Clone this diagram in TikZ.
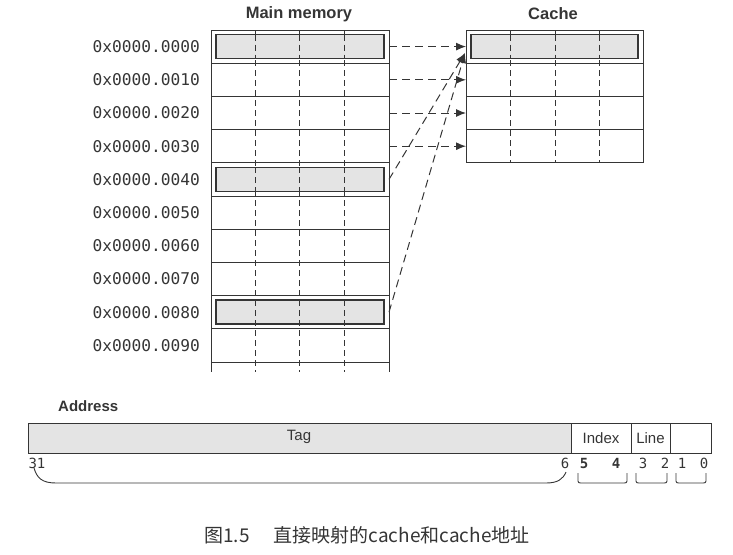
\documentclass[tikz,border=0pt]{standalone}
\usepackage{fontspec}
\setmainfont{Liberation Sans}
\newfontfamily\monof{DejaVu Sans Mono}
\newfontfamily\cjk{Noto Sans CJK SC}
\usetikzlibrary{arrows.meta}
\definecolor{ink}{HTML}{353535}
\definecolor{hl}{HTML}{E4E4E4}
\begin{document}
\begin{tikzpicture}[x=1pt,y=-1pt,
  grid/.style={draw=ink,line width=1pt},
  cell/.style={draw=ink,line width=0.9pt,dash pattern=on 6pt off 4pt},
  hilite/.style={draw=ink,fill=hl,line width=1.6pt},
  link/.style={draw=ink,line width=1pt,dash pattern=on 8pt off 5pt,-{Latex[length=10pt,width=8pt]}},
  addr/.style={font=\monof\fontsize{16.2}{18}\selectfont,text=ink,anchor=east,inner sep=0pt},
  title/.style={font=\bfseries\fontsize{16.5}{18}\selectfont,text=ink,inner sep=0pt},
  field/.style={font=\fontsize{15}{17}\selectfont,text=ink,inner sep=0pt},
  bitno/.style={font=\monof\fontsize{14}{16}\selectfont,text=ink,inner sep=0pt},
  brk/.style={draw=ink,line width=0.9pt}]
\useasboundingbox (0,0) rectangle (733,554);
% ---- Main memory ----
\node[title] (mmt) at (299,14) {Main memory};
\foreach \i in {0,...,10} {\draw[grid] (211,{30+33.2*\i}) -- (389,{30+33.2*\i});}
\draw[grid] (211,30) -- (211,372);
\draw[grid] (389,30) -- (389,372);
\foreach \x in {255.5,299.5,344} {\draw[cell] (\x,30) -- (\x,372);}
\foreach \i in {0,4,8} {
  \draw[hilite] (216,{34.5+33.2*\i}) rectangle (384,{58.5+33.2*\i});
  \foreach \x in {255.5,299.5,344} {\draw[cell] (\x,{34.5+33.2*\i}) -- (\x,{58.5+33.2*\i});}
}
\foreach \t [count=\i from 0] in {0000,0010,0020,0030,0040,0050,0060,0070,0080,0090} {
  \node[addr] (a\i) at (200,{46.6+33.2*\i}) {0x0000.\t};
  \coordinate (m\i) at (389,{46.6+33.2*\i});
}
% ---- Cache ----
\node[title] (cat) at (553,14) {Cache};
\foreach \i in {0,...,4} {\draw[grid] (466,{30+33.2*\i}) -- (643,{30+33.2*\i});}
\draw[grid] (466,30) -- (466,162.8);
\draw[grid] (643,30) -- (643,162.8);
\foreach \x in {510,555,599} {\draw[cell] (\x,30) -- (\x,162.8);}
\draw[hilite] (471,34.5) rectangle (638,58.5);
\foreach \x in {510,555,599} {\draw[cell] (\x,34.5) -- (\x,58.5);}
\foreach \i in {0,...,3} {\coordinate (c\i) at (466,{46.6+33.2*\i});}
\coordinate (cd) at (465,53);
% ---- mapping arrows ----
\foreach \i in {0,...,3} {\draw[link] (m\i) -- (c\i);}
\draw[link] (m4) -- (cd);
\draw[link] (m8) -- (cd);
% ---- Address ----
\node[title,anchor=west,font=\bfseries\fontsize{15}{17}\selectfont] (adt) at (58,406) {Address};
\draw[grid,fill=hl] (28,423) rectangle (571,453);
\draw[grid] (571,423) rectangle (631,453);
\draw[grid] (631,423) rectangle (670,453);
\draw[grid] (670,423) rectangle (711,453);
\node[field] (tag) at (299,437) {Tag};
\node[field] (idx) at (601,438) {Index};
\node[field] (lin) at (650.5,438) {Line};
\node[bitno] (b31) at (37,463) {31};
\node[bitno] (b6) at (565,463) {6};
\node[bitno,font=\monof\bfseries\fontsize{14}{16}\selectfont] (b5) at (584,463) {5};
\node[bitno,font=\monof\bfseries\fontsize{14}{16}\selectfont] (b4) at (616,463) {4};
\node[bitno] (b3) at (643,463) {3};
\node[bitno] (b2) at (665,463) {2};
\node[bitno] (b1) at (682,463) {1};
\node[bitno] (b0) at (704,463) {0};
\draw[brk] (34,468) .. controls (37,478) and (42,483) .. (56,483) -- (546,483) .. controls (558,483) and (563,479) .. (566,472);
\draw[brk] (578,473) -- (578,481) .. controls (578,482.5) and (579,483) .. (580.5,483) -- (624.5,483) .. controls (626,483) and (627,482.5) .. (627,481) -- (627,473);
\draw[brk] (636,473) -- (636,481) .. controls (636,482.5) and (637,483) .. (638.5,483) -- (664.5,483) .. controls (666,483) and (667,482.5) .. (667,481) -- (667,473);
\draw[brk] (676,473) -- (676,481) .. controls (676,482.5) and (677,483) .. (678.5,483) -- (703.5,483) .. controls (705,483) and (706,482.5) .. (706,481) -- (706,473);
% ---- caption ----
\node[font=\cjk\fontsize{19}{22}\selectfont,text=ink,inner sep=0pt] (cap) at (367,535) {图1.5\hspace{24pt}直接映射的cache和cache地址};
\end{tikzpicture}
\end{document}
